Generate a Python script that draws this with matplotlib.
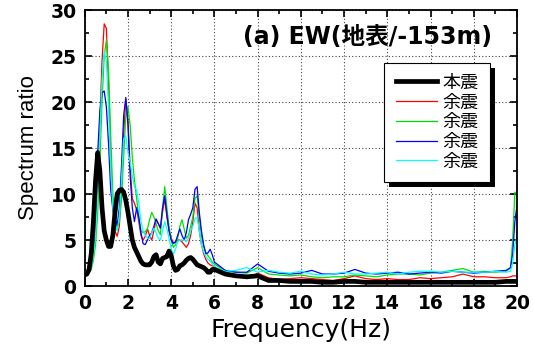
import matplotlib
matplotlib.use("Agg")
import matplotlib.pyplot as plt
import matplotlib.patheffects as pe
import numpy as np

# frequency samples (Hz): fine below 6 Hz, coarse above
freq = np.concatenate([np.round(np.arange(0, 6.01, 0.1), 1),
                       np.arange(6.5, 19.6, 0.5),
                       [19.7, 19.8, 19.9, 20.0]])

# 本震 (main shock)
main = [1.2, 1.3, 1.8, 3.5, 7.0, 11.5, 14.5, 12.5, 8.5, 6.0,
        5.0, 4.3, 4.3, 5.5, 8.0, 10.0, 10.4, 10.5, 10.2, 9.3,
        8.0, 6.5, 5.0, 4.2, 3.7, 3.2, 2.7, 2.4, 2.3, 2.3,
        2.3, 2.6, 3.2, 3.4, 2.6, 2.4, 3.0, 3.1, 3.2, 3.8,
        3.3, 2.2, 1.7, 1.8, 2.2, 2.3, 2.5, 2.8, 3.0, 3.1,
        2.9, 2.6, 2.3, 2.2, 2.1, 2.0, 1.8, 1.5, 1.5, 1.8,
        1.8,
        1.3, 1.1, 1.0, 1.1, 0.6, 0.6, 0.5, 0.5, 0.5, 0.4,
        0.4, 0.5, 0.5, 0.4, 0.4, 0.4, 0.4, 0.4, 0.4, 0.4,
        0.4, 0.4, 0.4, 0.4, 0.4, 0.4, 0.5,
        0.5, 0.5, 0.5, 0.5]

# 余震 (aftershocks)
after1 = [1.2, 1.3, 1.5, 2.2, 3.5, 6.0, 11.0, 18.0, 24.5, 28.5,
          28.0, 22.0, 14.0, 8.5, 6.0, 5.4, 6.5, 10.5, 16.5, 20.3,
          18.0, 13.0, 9.5, 9.0, 8.3, 7.0, 5.5, 5.0, 5.4, 6.2,
          5.5, 5.0, 6.0, 7.2, 6.8, 6.3, 8.0, 9.5, 7.5, 6.0,
          5.2, 4.7, 4.8, 5.0, 5.0, 4.8, 4.5, 4.2, 4.6, 5.5,
          7.0, 9.0, 8.5, 6.0, 4.5, 3.5, 2.9, 2.5, 2.3, 2.2,
          2.1,
          1.4, 1.2, 0.8, 1.4, 0.9, 0.7, 0.8, 0.9, 0.8, 0.7,
          0.6, 0.8, 1.1, 0.8, 0.7, 0.8, 0.7, 0.7, 0.9, 0.8,
          0.9, 1.0, 1.3, 1.0, 1.0, 0.9, 0.9,
          1.0, 1.1, 1.1, 1.1]

after2 = [1.2, 1.3, 1.4, 1.8, 2.8, 4.5, 8.0, 13.5, 20.0, 25.0,
          26.7, 23.5, 16.5, 10.0, 7.2, 6.3, 7.0, 9.5, 14.0, 18.5,
          19.5, 17.5, 14.0, 11.5, 9.5, 7.5, 6.0, 5.8, 5.9, 6.2,
          7.2, 8.0, 7.5, 6.8, 6.0, 5.6, 8.5, 10.8, 8.5, 6.5,
          5.0, 4.2, 4.5, 5.2, 6.5, 7.2, 6.2, 5.2, 5.5, 6.5,
          7.5, 9.5, 9.8, 7.5, 5.5, 4.3, 3.7, 3.3, 3.0, 2.6,
          2.4,
          1.6, 1.5, 1.4, 2.0, 1.3, 1.2, 1.1, 1.2, 1.0, 0.9,
          1.0, 1.0, 1.2, 1.1, 1.0, 1.2, 1.3, 1.3, 1.2, 1.4,
          1.5, 1.7, 1.9, 1.5, 1.6, 1.5, 1.6,
          2.0, 5.0, 10.2, 10.0]

after3 = [1.2, 1.3, 1.6, 2.5, 4.5, 8.5, 14.5, 19.0, 21.0, 21.2,
          19.5, 15.5, 10.5, 8.3, 7.5, 6.6, 8.5, 13.0, 18.5, 20.5,
          17.5, 12.0, 8.5, 7.0, 8.5, 7.5, 5.8, 4.6, 4.5, 5.0,
          5.5, 5.8, 6.5, 7.3, 6.8, 6.3, 8.5, 9.8, 7.8, 6.0,
          5.0, 4.6, 4.8, 5.5, 6.2, 5.5, 5.0, 5.8, 7.2, 7.8,
          8.5, 10.5, 10.8, 8.0, 6.0, 4.5, 3.5, 3.6, 4.0, 3.4,
          2.6,
          1.7, 1.5, 1.5, 2.4, 1.6, 1.4, 1.3, 1.4, 1.7, 1.3,
          1.3, 1.4, 1.8, 1.4, 1.3, 1.4, 1.5, 1.3, 1.4, 1.5,
          1.4, 1.6, 1.5, 1.4, 1.5, 1.6, 1.7,
          2.0, 3.5, 7.0, 8.8]

after4 = [1.2, 1.3, 1.5, 2.0, 3.2, 5.5, 10.0, 16.5, 22.5, 25.5,
          24.5, 19.5, 13.0, 8.5, 6.5, 6.0, 7.5, 11.5, 16.0, 16.3,
          14.5, 13.5, 12.0, 10.8, 10.4, 9.0, 7.0, 6.0, 5.5, 5.2,
          5.2, 5.8, 6.3, 5.8, 5.2, 5.0, 6.0, 7.0, 6.2, 5.2,
          4.0, 3.5, 4.0, 4.8, 5.0, 5.0, 5.0, 4.8, 5.2, 6.0,
          6.5, 7.3, 7.5, 6.0, 4.5, 3.7, 3.2, 2.9, 2.7, 2.4,
          2.1,
          1.6, 1.7, 2.0, 1.5, 1.7, 1.5, 1.4, 1.6, 1.3, 1.2,
          1.3, 1.5, 1.3, 1.3, 1.4, 1.5, 1.3, 1.5, 1.6, 1.6,
          1.5, 1.6, 1.5, 1.5, 1.5, 1.6, 1.5,
          1.6, 2.5, 4.5, 5.3]

labels = ["本震", "余震", "余震", "余震", "余震"]
colors = ["black", "red", "#00e000", "#0000ff", "#00ffff"]
widths = [3.4, 0.9, 0.9, 0.9, 0.9]

wide = ["DejaVu Sans", "Noto Sans CJK JP"]
narrow = ["Liberation Sans", "Noto Sans CJK JP"]
plt.rcParams["font.family"] = wide

fig = plt.figure(figsize=(5.33, 3.52), dpi=100)
ax = fig.add_axes([0.159, 0.1875, 0.811, 0.784])

series = [main, after1, after2, after3, after4]
# aftershocks first so the main shock sits on top
for i in [1, 2, 3, 4, 0]:
    ax.plot(freq, series[i], color=colors[i], lw=widths[i], label=labels[i],
            zorder=3 if i == 0 else 2)

ax.set_xlim(0, 20)
ax.set_ylim(0, 30)
ax.set_xticks(np.arange(0, 21, 2))
ax.set_xticks(np.arange(0, 21, 1), minor=True)
ax.set_yticks(np.arange(0, 31, 5))
ax.set_yticks(np.arange(0, 31, 2.5), minor=True)
ax.tick_params(which="both", direction="in", top=True, right=True, width=1.2)
ax.tick_params(which="major", length=5, labelsize=13.5, pad=6)
ax.tick_params(which="minor", length=3)
for lab in ax.get_xticklabels() + ax.get_yticklabels():
    lab.set_fontweight("bold")
for s in ax.spines.values():
    s.set_linewidth(1.3)
ax.grid(True, which="major", ls=(0, (1, 2)), color="#444444", lw=0.8)

ax.set_xlabel("Frequency(Hz)", fontsize=18, labelpad=3)
ax.set_ylabel("Spectrum ratio", fontsize=16, labelpad=8, family=narrow)

ax.text(0.942, 0.945, "(a) EW(地表/-153m)", transform=ax.transAxes,
        ha="right", va="top", fontsize=17, fontweight="bold", family=wide)

# legend with hard black drop shadow
handles, labs = ax.get_legend_handles_labels()
order = [4, 0, 1, 2, 3]
leg = ax.legend([handles[k] for k in order], [labs[k] for k in order],
                loc="upper left", bbox_to_anchor=(0.692, 0.808),
                fancybox=False, framealpha=1, edgecolor="black",
                prop={"family": narrow, "size": 13},
                handlelength=2.3, handletextpad=0.3,
                labelspacing=0.15, borderpad=0.65, borderaxespad=0)
leg.get_frame().set_linewidth(0.8)
leg.get_frame().set_path_effects([
    pe.SimplePatchShadow(offset=(3.6, -3.6), shadow_rgbFace="black", alpha=1),
    pe.Normal()])
leg.set_zorder(5)

fig.savefig("out.png", dpi=100)
